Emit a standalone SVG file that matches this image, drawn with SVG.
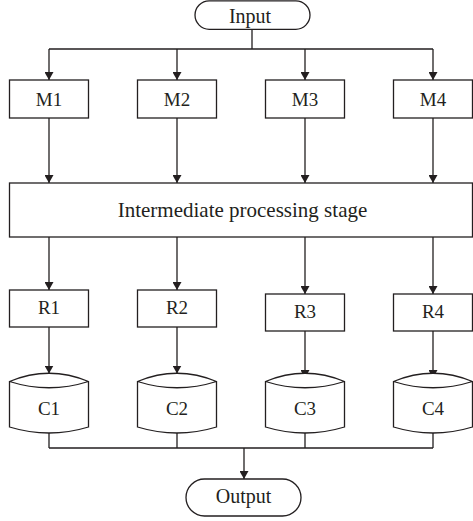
<svg xmlns="http://www.w3.org/2000/svg" width="473" height="521" viewBox="0 0 473 521">
<defs>
<marker id="ah" viewBox="0 0 8 9" refX="8" refY="4.5" markerWidth="8" markerHeight="9" markerUnits="userSpaceOnUse" orient="auto">
<path d="M0,0 L8,4.5 L0,9 Z" fill="#231f20"/>
</marker>
<style>
.s{fill:#fff;stroke:#231f20;stroke-width:1.3}
.c{fill:none;stroke:#231f20;stroke-width:1.3}
.a{fill:none;stroke:#231f20;stroke-width:1.3;marker-end:url(#ah)}
text{font-family:"Liberation Serif","Times New Roman",serif;fill:#231f20;text-anchor:middle}
.l{font-size:19px}
.big{font-size:20px}
.mid{font-size:21px}
</style>
</defs>
<rect width="473" height="521" fill="#fff"/>
<g id="connectors">
<path class="c" d="M252,29.5 V49 M49,49 H433"/>
<path class="a" d="M49,49 V80"/>
<path class="a" d="M177,49 V80"/>
<path class="a" d="M305,49 V80"/>
<path class="a" d="M433,49 V80"/>
<path class="a" d="M49,118 V183"/>
<path class="a" d="M177,118 V183"/>
<path class="a" d="M305,118 V183"/>
<path class="a" d="M433,118 V183"/>
<path class="a" d="M49,237 V290"/>
<path class="a" d="M177,237 V290"/>
<path class="a" d="M305,237 V294"/>
<path class="a" d="M433,237 V294"/>
<path class="a" d="M49,327 V373.5"/>
<path class="a" d="M177,327 V373.5"/>
<path class="a" d="M305,331 V378"/>
<path class="a" d="M433,331 V378"/>
<path class="c" d="M49,433 V448 M177,433 V448 M305,433 V448 M433,433 V448 M49,448 H433"/>
<path class="a" d="M244,448 V479"/>
</g>
<g id="input">
<rect class="s" x="195" y="0.8" width="115" height="28.5" rx="14.2"/>
<text class="big" x="250" y="23">Input</text>
</g>
<g id="m1"><rect class="s" x="9.5" y="80" width="79" height="38"/><text class="l" x="49" y="105.5">M1</text></g>
<g id="m2"><rect class="s" x="137.5" y="80" width="79" height="38"/><text class="l" x="177" y="105.5">M2</text></g>
<g id="m3"><rect class="s" x="265.5" y="80" width="79" height="38"/><text class="l" x="305" y="105.5">M3</text></g>
<g id="m4"><rect class="s" x="393.5" y="80" width="79" height="38"/><text class="l" x="433" y="105.5">M4</text></g>
<g id="intermediate">
<rect class="s" x="9.5" y="183" width="463" height="54"/>
<text class="mid" x="242.5" y="217">Intermediate processing stage</text>
</g>
<g id="r1"><rect class="s" x="9.5" y="290" width="79" height="37"/><text class="l" x="49" y="314">R1</text></g>
<g id="r2"><rect class="s" x="137.5" y="290" width="79" height="37"/><text class="l" x="177" y="314">R2</text></g>
<g id="r3"><rect class="s" x="265.5" y="294" width="79" height="37"/><text class="l" x="305" y="318">R3</text></g>
<g id="r4"><rect class="s" x="393.5" y="294" width="79" height="37"/><text class="l" x="433" y="318">R4</text></g>
<g id="c1">
<path class="s" d="M9.5,381.5 Q49,365 88.5,381.5 V427 Q49,439 9.5,427 Z M9.5,381.5 Q49,394 88.5,381.5"/>
<text class="l" x="49" y="415">C1</text>
</g>
<g id="c2">
<path class="s" d="M137.5,381.5 Q177,365 216.5,381.5 V427 Q177,439 137.5,427 Z M137.5,381.5 Q177,394 216.5,381.5"/>
<text class="l" x="177" y="415">C2</text>
</g>
<g id="c3">
<path class="s" d="M265.5,381.5 Q305,365 344.5,381.5 V427 Q305,439 265.5,427 Z M265.5,381.5 Q305,394 344.5,381.5"/>
<text class="l" x="305" y="415">C3</text>
</g>
<g id="c4">
<path class="s" d="M393.5,381.5 Q433,365 472.5,381.5 V427 Q433,439 393.5,427 Z M393.5,381.5 Q433,394 472.5,381.5"/>
<text class="l" x="433" y="415">C4</text>
</g>
<g id="output">
<rect class="s" x="186" y="479" width="115" height="37" rx="18.5"/>
<text class="big" x="243.5" y="503">Output</text>
</g>
</svg>
